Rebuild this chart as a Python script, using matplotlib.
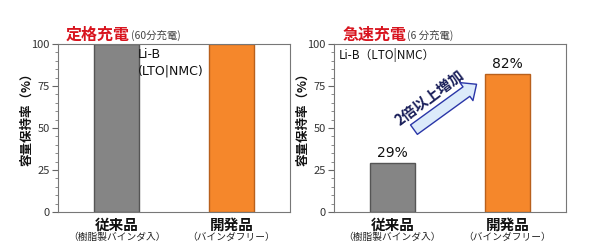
import matplotlib
matplotlib.use("Agg")
import matplotlib.pyplot as plt
from matplotlib.ticker import MultipleLocator

plt.rcParams['font.family'] = ['Noto Sans CJK JP', 'DejaVu Sans']

categories = ["従来品", "開発品"]
sub_labels = ["（樹脂製バインダ入）", "（バインダフリー）"]
rated_values = [100, 100]
fast_values = [29, 82]
fast_labels = ["29%", "82%"]
panel_titles = ["定格充電", "急速充電"]
panel_notes = ["(60分充電)", "(6 分充電)"]
yticks = [0, 25, 50, 75, 100]
ylabel = "容量保持率（%）"
arrow_text = "2倍以上増加"

bar_colors = ["#858585", "#F5872B"]
edge_colors = ["#555555", "#B8601C"]

fig = plt.figure(figsize=(5.9, 2.52), dpi=100)
fig.patch.set_facecolor("white")

positions = [0.0983, 0.566]
axes = []
for i, (left, vals) in enumerate(zip(positions, [rated_values, fast_values])):
    ax = fig.add_axes([left, 0.1587, 0.393, 0.667])
    axes.append(ax)
    x = list(range(len(categories)))
    ax.bar(x, vals, width=0.39, color=bar_colors, edgecolor=edge_colors, linewidth=1.0)
    ax.set_xlim(-0.51, 1.51)
    ax.set_ylim(0, 100)
    ax.set_yticks(yticks)
    ax.yaxis.set_minor_locator(MultipleLocator(5))
    ax.tick_params(axis='y', which='major', length=4, width=0.8, color="#666666",
                   labelsize=8, labelcolor="#333333", pad=2)
    ax.tick_params(axis='y', which='minor', length=2, width=0.6, color="#777777")
    ax.set_xticks(x)
    ax.set_xticklabels([])
    ax.tick_params(axis='x', length=0)
    for s in ax.spines.values():
        s.set_color("#777777")
        s.set_linewidth(0.8)
    for xi, (c, sl) in enumerate(zip(categories, sub_labels)):
        ax.text(xi, -0.077, c, transform=ax.get_xaxis_transform(), ha='center', va='center',
                fontsize=10.5, fontweight='bold', color="#111111")
        ax.text(xi, -0.15, sl, transform=ax.get_xaxis_transform(), ha='center', va='center',
                fontsize=7, color="#222222")
    ax.set_ylabel(ylabel, fontsize=9, fontweight='bold', color="#111111")
    ax.yaxis.set_label_coords(-0.108, 0.571)
    # title
    t = ax.text(0.035, 1.054, panel_titles[i], transform=ax.transAxes, ha='left', va='center',
                fontsize=11.5, fontweight='bold', color="#D8141E")
    fig.canvas.draw()
    bb = t.get_window_extent()
    inv = ax.transAxes.inverted()
    x_end = inv.transform((bb.x1, bb.y0))[0]
    ax.text(x_end + 0.004, 1.05, panel_notes[i], transform=ax.transAxes, ha='left', va='center',
            fontsize=7.5, style='italic', color="#444444")

ax0, ax1 = axes
ax0.text(0.345, 0.975, "Li-B\n(LTO|NMC)", transform=ax0.transAxes, ha='left', va='top',
         fontsize=9, color="#111111", linespacing=1.3, family=['DejaVu Sans'])
ax1.text(0.02, 0.975, "Li-B（LTO|NMC）", transform=ax1.transAxes, ha='left', va='top',
         fontsize=8.5, color="#111111")

for xi, (v, lab) in enumerate(zip(fast_values, fast_labels)):
    ax1.text(xi, v + 2, lab, ha='center', va='bottom', fontsize=10, color="#111111",
             family=['DejaVu Sans'])

ax1.annotate("", xy=(0.615, 0.76), xytext=(0.345, 0.49), xycoords='axes fraction',
             textcoords='axes fraction',
             arrowprops=dict(arrowstyle="simple,head_length=0.45,head_width=0.8,tail_width=0.42",
                             mutation_scale=20, fc="#DCEBFA", ec="#2A36A8", lw=1.0,
                             shrinkA=0, shrinkB=0))
ax1.text(0.412, 0.685, arrow_text, transform=ax1.transAxes, ha='center', va='center',
         rotation=37, fontsize=10.5, fontweight='bold', color="#1A1F5A")

fig.savefig("out.png", dpi=100, facecolor="white")
